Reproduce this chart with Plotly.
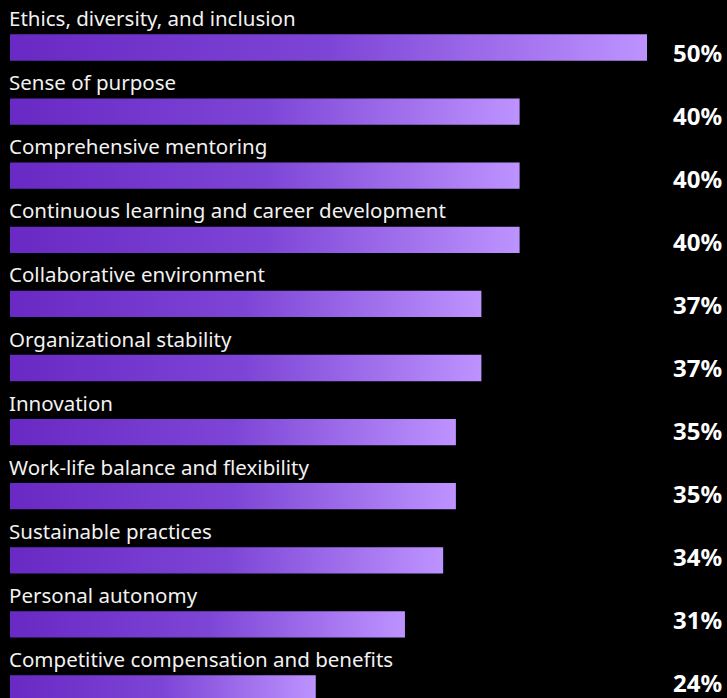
import plotly.graph_objects as go

# Survey results: share of respondents naming each workplace factor
factors = [
    "Ethics, diversity, and inclusion",
    "Sense of purpose",
    "Comprehensive mentoring",
    "Continuous learning and career development",
    "Collaborative environment",
    "Organizational stability",
    "Innovation",
    "Work-life balance and flexibility",
    "Sustainable practices",
    "Personal autonomy",
    "Competitive compensation and benefits",
]
shares = [50, 40, 40, 40, 37, 37, 35, 35, 34, 31, 24]

W, H = 727, 698
BAR_H = 0.41          # bar thickness in row units
ROW_PX = 64.1         # row pitch in pixels
FIRST_PX = 47.5       # pixel centre of the first row
VAL_FIRST_PX = 52.5   # pixel centre of the first value label
VAL_ROW_PX = 63       # pitch of the value labels column

grad = [[0.0, "#6929c4"], [0.5, "#7d45d6"], [1.0, "#bd93ff"]]

fig = go.Figure()
for i, (name, v) in enumerate(zip(factors, shares)):
    y0, y1 = i - BAR_H / 2, i + BAR_H / 2
    fig.add_trace(go.Scatter(
        x=[0, v, v, 0, 0],
        y=[y0, y0, y1, y1, y0],
        mode="lines",
        line=dict(width=0),
        fill="toself",
        fillgradient=dict(type="horizontal", colorscale=grad),
        hoverinfo="skip",
        showlegend=False,
    ))
    fig.add_annotation(
        x=0, y=i, xref="x", yref="y", text=name, showarrow=False,
        xanchor="left", yanchor="middle", xshift=-3, yshift=29.5,
        font=dict(family="Noto Sans", size=20.5, color="#f2f2f2"),
    )
    fig.add_annotation(
        x=1, y=1 - (VAL_FIRST_PX + VAL_ROW_PX * i) / H, xref="paper", yref="paper",
        text=f"{v}%", showarrow=False,
        xanchor="right", yanchor="middle", xshift=-3, yshift=0,
        font=dict(family="Noto Sans", size=24, color="#ffffff", weight="bold"),
    )

px_per_unit = (647 - 10) / 50.0
x_lo = -10 / px_per_unit
x_hi = x_lo + W / px_per_unit
y_top = -FIRST_PX / ROW_PX
y_bot = (H - FIRST_PX) / ROW_PX

fig.update_layout(
    width=W, height=H,
    margin=dict(l=0, r=0, t=0, b=0),
    paper_bgcolor="#000000", plot_bgcolor="#000000",
    xaxis=dict(range=[x_lo, x_hi], visible=False, fixedrange=True),
    yaxis=dict(range=[y_bot, y_top], visible=False, fixedrange=True),
)

fig.write_html("out.html")
